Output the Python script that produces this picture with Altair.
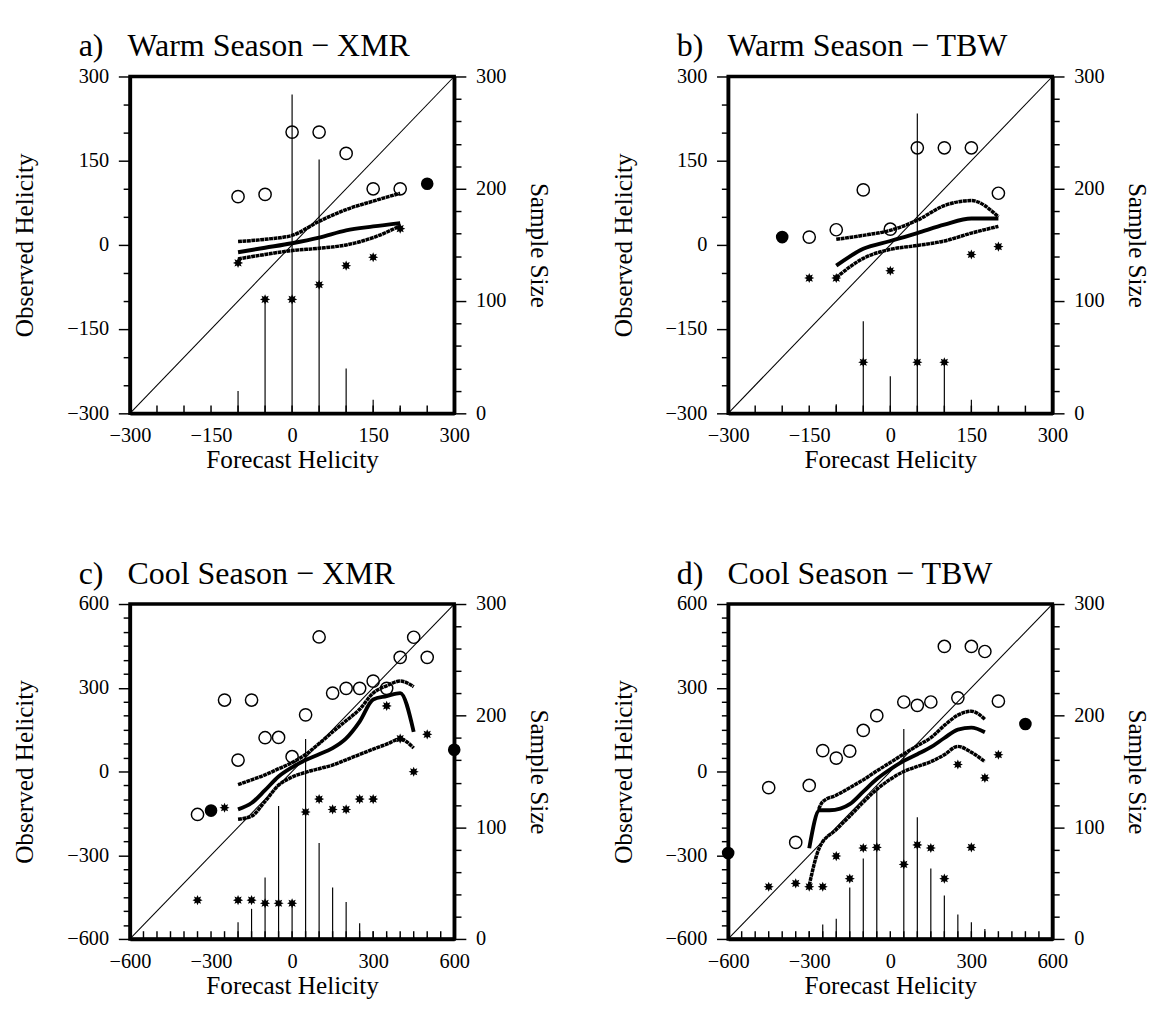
import math
import altair as alt
import pandas as pd

FONT = "Liberation Serif"

# ---------------- Panel a: Warm Season - XMR ----------------
a_max_x = [-100, -50, 0, 50, 100, 150, 200]
a_max = [86, 90, 201, 201, 163, 100, 100]
a_min_x = [-100, -50, 0, 50, 100, 150, 200]
a_min = [-32, -97, -97, -71, -37, -22, 29]
a_n_x = [-100, -50, 0, 50, 100, 150, 200]
a_n = [20, 102, 284, 226, 40, 12, 5]
a_one_x = [250]
a_one_y = [109]
a_curve_x = [-100, -50, 0, 50, 100, 150, 200]
a_upper = [6, 10, 17, 42, 63, 78, 92]
a_mean = [-13, -5, 3, 13, 26, 33, 39]
a_lower = [-25, -17, -10, -6, 0, 13, 34]

# ---------------- Panel b: Warm Season - TBW ----------------
b_max_x = [-150, -100, -50, 0, 50, 100, 150, 200]
b_max = [14, 27, 98, 28, 173, 173, 173, 92]
b_min_x = [-150, -100, -50, 0, 50, 100, 150, 200]
b_min = [-59, -59, -209, -46, -209, -209, -17, -3]
b_n_x = [-150, -100, -50, 0, 50, 100, 150, 200]
b_n = [2, 8, 82, 33, 267, 45, 12, 6]
b_one_x = [-200]
b_one_y = [14]
b_curve_x = [-100, -50, 0, 50, 100, 150, 200]
b_upper = [10, 17, 26, 44, 70, 79, 50]
b_mean = [-37, -7, 7, 21, 36, 47, 47]
b_lower = [-58, -24, -8, -1, 7, 21, 33]

# ---------------- Panel c: Cool Season - XMR ----------------
c_max_x = [-350, -250, -200, -150, -100, -50, 0, 50, 100, 150, 200, 250, 300, 350, 400, 450, 500]
c_max = [-154, 256, 41, 256, 121, 122, 53, 203, 482, 281, 298, 298, 324, 298, 409, 481, 409]
c_min_x = [-350, -250, -200, -150, -100, -50, 0, 50, 100, 150, 200, 250, 300, 350, 400, 450, 500]
c_min = [-461, -130, -461, -461, -472, -472, -472, -145, -99, -136, -136, -99, -99, 235, 118, -1, 133]
c_n_x = [-350, -250, -200, -150, -100, -50, 0, 50, 100, 150, 200, 250, 300, 350, 400, 450, 500]
c_n = [2, 2, 15, 27, 55, 119, 32, 179, 86, 46, 33, 14, 7, 3, 2, 2, 2]
c_one_x = [-300, 600]
c_one_y = [-140, 78]
c_curve_x = [-200, -150, -100, -50, 0, 50, 100, 150, 200, 250, 300, 350, 400, 450]
c_upper = [-47, -30, -12, 10, 32, 61, 100, 142, 182, 223, 281, 307, 324, 304]
c_mean = [-136, -113, -67, -18, 15, 41, 62, 84, 119, 179, 258, 270, 281, 142]
c_lower = [-171, -160, -107, -49, -20, -3, 10, 23, 42, 61, 80, 98, 116, 84]

# ---------------- Panel d: Cool Season - TBW ----------------
d_max_x = [-450, -350, -300, -250, -200, -150, -100, -50, 50, 100, 150, 200, 250, 300, 350, 400]
d_max = [-58, -254, -50, 75, 48, 73, 147, 200, 249, 237, 249, 448, 264, 448, 430, 252]
d_min_x = [-450, -350, -300, -250, -200, -150, -100, -50, 50, 100, 150, 200, 250, 300, 350, 400]
d_min = [-413, -401, -413, -413, -303, -384, -274, -272, -333, -263, -274, -384, 25, -272, -23, 60]
d_n_x = [-450, -350, -300, -250, -200, -150, -100, -50, 50, 100, 150, 200, 250, 300, 350, 400]
d_n = [2, 2, 7, 13, 18, 46, 72, 137, 188, 109, 63, 39, 22, 15, 9, 2]
d_one_x = [-600, 500]
d_one_y = [-292, 170]
d_upper_x = [-265, -250, -200, -150, -100, -50, 0, 50, 100, 150, 200, 250, 300, 350]
d_upper = [-135, -108, -85, -58, -30, 2, 32, 63, 92, 121, 165, 202, 216, 187]
d_mean_x = [-300, -262, -225, -185, -150, -100, -50, 0, 50, 100, 150, 200, 250, 300, 350]
d_mean = [-275, -139, -139, -133, -117, -72, -27, 8, 38, 62, 87, 120, 150, 157, 141]
d_lower_x = [-300, -262, -200, -150, -100, -50, 0, 50, 100, 150, 200, 250, 300, 350]
d_lower = [-408, -272, -208, -160, -110, -64, -28, 0, 18, 35, 60, 90, 69, 35]

# asterisk-like star symbol (normalised path)
_pts = []
for k in range(16):
    ang = k * math.pi / 8
    r = 1.0 if k % 2 == 0 else 0.55
    _pts.append(f"{r * math.cos(ang):.3f},{r * math.sin(ang):.3f}")
STAR = "M" + "L".join(_pts) + "Z"


def panel(tag, name, lim, major, max_x, max_y, min_x, min_y, n_x, n_y,
          one_x, one_y, up_x, up_y, mid_x, mid_y, lo_x, lo_y, h):
    ticks = list(range(-lim, lim + 1, 50))
    lab = f"datum.value % {major} === 0 ? datum.label : ''"
    tsize = {"condition": {"test": f"datum.value % {major} === 0", "value": 12}, "value": 7}
    xscale = alt.Scale(domain=[-lim, lim], nice=False, zero=False)
    yscale = alt.Scale(domain=[-lim, lim], nice=False, zero=False)
    # bottom axis: labels only, ticks drawn inward below
    xaxis = alt.Axis(title="Forecast Helicity", values=ticks, labelExpr=lab,
                     tickSize=7, tickOpacity=0, titlePadding=2, labelPadding=5, orient="bottom")
    yaxis = alt.Axis(title="Observed Helicity", values=ticks, labelExpr=lab,
                     tickSize=tsize, orient="left", titlePadding=30, labelPadding=10)

    def X():
        return alt.X("x:Q", scale=xscale, axis=xaxis)

    def Y():
        return alt.Y("y:Q", scale=yscale, axis=yaxis)

    inward = alt.Chart(pd.DataFrame({"x": ticks})).mark_rule(
        color="black", strokeWidth=1.5).encode(x=X(), y=alt.value(h), y2=alt.value(h - 8))
    diag = alt.Chart(pd.DataFrame({"x": [-lim, lim], "y": [-lim, lim]})).mark_line(
        color="black", strokeWidth=1.1).encode(x=X(), y=Y())
    up = alt.Chart(pd.DataFrame({"x": up_x, "y": up_y})).mark_line(
        color="black", strokeWidth=3.6, strokeDash=[4, 0.6], interpolate="monotone").encode(x=X(), y=Y())
    mid = alt.Chart(pd.DataFrame({"x": mid_x, "y": mid_y})).mark_line(
        color="black", strokeWidth=4, interpolate="monotone").encode(x=X(), y=Y())
    lo = alt.Chart(pd.DataFrame({"x": lo_x, "y": lo_y})).mark_line(
        color="black", strokeWidth=3.6, strokeDash=[4, 0.6], interpolate="monotone").encode(x=X(), y=Y())
    opens = alt.Chart(pd.DataFrame({"x": max_x, "y": max_y})).mark_point(
        shape="circle", filled=False, color="black", strokeWidth=1.5, size=160, opacity=1).encode(x=X(), y=Y())
    stars = alt.Chart(pd.DataFrame({"x": min_x, "y": min_y})).mark_point(
        shape=STAR, filled=True, color="black", size=110, opacity=1).encode(x=X(), y=Y())
    ones = alt.Chart(pd.DataFrame({"x": one_x, "y": one_y})).mark_point(
        shape="circle", filled=True, color="black", size=170, opacity=1).encode(x=X(), y=Y())
    inner = alt.layer(diag, up, mid, lo, opens, stars, ones, inward)

    bars = alt.Chart(pd.DataFrame({"x": n_x, "n": n_y})).mark_rule(
        color="black", strokeWidth=1.2).encode(
        x=X(),
        y=alt.Y("n:Q", scale=alt.Scale(domain=[0, 300], nice=False),
                axis=alt.Axis(title="Sample Size", orient="right", values=list(range(0, 301, 20)),
                              labelExpr="datum.value % 100 === 0 ? datum.label : ''",
                              tickSize={"condition": {"test": "datum.value % 100 === 0", "value": 12}, "value": 7},
                              titleAngle=90, titlePadding=20, labelPadding=10)),
        y2=alt.datum(0))

    title = alt.TitleParams(text=f"{tag}\u00a0\u00a0\u00a0{name}", anchor="start", frame="group",
                            dx=-53, fontSize=33, font=FONT, fontWeight="normal", color="black", offset=3)
    return alt.layer(bars, inner).resolve_scale(y="independent").properties(
        width=335, height=h, title=title)


pa = panel("a)", "Warm Season \u2212 XMR", 300, 150, a_max_x, a_max, a_min_x, a_min, a_n_x, a_n,
           a_one_x, a_one_y, a_curve_x, a_upper, a_curve_x, a_mean, a_curve_x, a_lower, 348)
pb = panel("b)", "Warm Season \u2212 TBW", 300, 150, b_max_x, b_max, b_min_x, b_min, b_n_x, b_n,
           b_one_x, b_one_y, b_curve_x, b_upper, b_curve_x, b_mean, b_curve_x, b_lower, 348)
pc = panel("c)", "Cool Season \u2212 XMR", 600, 300, c_max_x, c_max, c_min_x, c_min, c_n_x, c_n,
           c_one_x, c_one_y, c_curve_x, c_upper, c_curve_x, c_mean, c_curve_x, c_lower, 346)
pd_ = panel("d)", "Cool Season \u2212 TBW", 600, 300, d_max_x, d_max, d_min_x, d_min, d_n_x, d_n,
            d_one_x, d_one_y, d_upper_x, d_upper, d_mean_x, d_mean, d_lower_x, d_lower, 346)

top = alt.hconcat(pa, pb, spacing=57)
bot = alt.hconcat(pc, pd_, spacing=57)
chart = alt.vconcat(top, bot, spacing=85).configure_view(
    stroke="black", strokeWidth=3.5
).configure_axis(
    labelFont=FONT, labelFontSize=21, titleFont=FONT, titleFontSize=26, titleFontWeight="normal",
    labelColor="black", titleColor="black", domainColor="black", domainWidth=3.5,
    tickColor="black", tickWidth=1.5, grid=False, labelFlush=False, labelOverlap=False
).properties(background="white", padding={"left": 2, "top": 5, "right": 5, "bottom": 5})

chart.save("out.html", embed_options={"renderer": "svg", "actions": False})
